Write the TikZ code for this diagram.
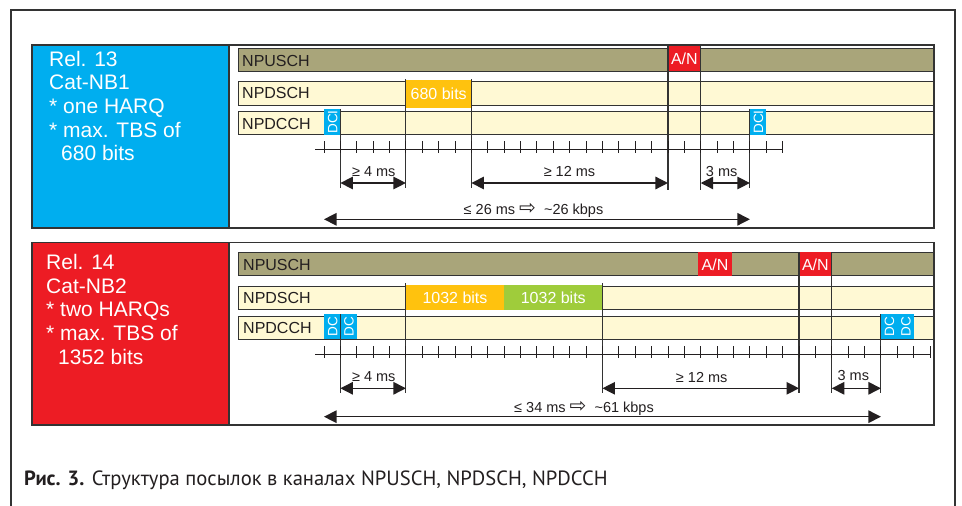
\documentclass[tikz,border=0pt]{standalone}
\usepackage{fontspec}
\setmainfont{Liberation Sans}
\newfontfamily\symfont{DejaVu Sans}
\newfontfamily\capfont{PT Sans}
\usetikzlibrary{arrows.meta}
\definecolor{nbblue}{HTML}{00AEEF}
\definecolor{nbred}{HTML}{ED1C24}
\definecolor{olivec}{HTML}{A9A57A}
\definecolor{cream}{HTML}{FFF9D4}
\definecolor{goldc}{HTML}{FFC20E}
\definecolor{limec}{HTML}{9FCC3B}
\definecolor{linec}{HTML}{333333}
\definecolor{textc}{HTML}{231F20}
\newcommand{\hollowarrow}{{\symfont\fontsize{20}{20}\selectfont\raisebox{-0.5pt}{⇨}}}
\begin{document}
\begin{tikzpicture}[x=1pt,y=-1pt,
  lineseg/.style={draw=linec, line width=1.1pt},
  barbox/.style={draw=linec, line width=0.9pt},
  lbl/.style={anchor=base west, inner sep=0pt, font=\fontsize{16}{18}\selectfont, text=textc},
  blk/.style={anchor=base, inner sep=0pt, font=\fontsize{16}{18}\selectfont, text=white},
  dcitxt/.style={rotate=90, inner sep=0pt, font=\fontsize{13.5}{14}\selectfont, text=white},
  dimtxt/.style={anchor=base, inner sep=0pt, font=\fontsize{14.5}{16}\selectfont, text=textc},
  sidetxt/.style={anchor=base west, inner sep=0pt, font=\fontsize{21}{24}\selectfont, text=white},
  dimarrow/.style={line width=1.3pt, draw=textc, {Triangle[length=12.5pt,width=12.5pt]}-{Triangle[length=12.5pt,width=12.5pt]}},
  tickmark/.style={draw=textc, line width=0.9pt},
  panelbox/.style={draw=linec, line width=1.5pt}
]
\useasboundingbox (0,0) rectangle (962,506);
\fill[white] (0,0) rectangle (962,506);
% outer frame
\draw[draw=linec, line width=1.2pt] (11,506) -- (11,10) -- (955,10) -- (955,506);

% ================= PANEL 1 =================
\fill[nbblue] (32,45) rectangle (229,228);
\node[sidetxt] (r13a) at (49,66) {Rel. 13};
\node[sidetxt] (r13b) at (49,89.7) {Cat-NB1};
\node[sidetxt] (r13c) at (49,113.4) {* one HARQ};
\node[sidetxt] (r13d) at (49,137.1) {* max. TBS of};
\node[sidetxt] (r13e) at (61,160.8) {680 bits};

\filldraw[barbox, fill=olivec] (238,48.3) rectangle (934,71.3);
\filldraw[barbox, fill=cream] (238,81.7) rectangle (934,105);
\filldraw[barbox, fill=cream] (238,111.7) rectangle (934,134.7);
\fill[goldc] (405.9,79.5) rectangle (471.42,107.5);
\fill[nbred] (667.98,45) rectangle (700.74,71.3);
\fill[nbblue] (324,109) rectangle (340.38,134.7);
\fill[nbblue] (749.88,109) rectangle (766.26,134.7);

\node[lbl] (u1) at (242,66) {NPUSCH};
\node[lbl] (s1) at (242,98.8) {NPDSCH};
\node[lbl] (c1) at (242,129) {NPDCCH};
\node[blk] (b680) at (438.7,99) {680 bits};
\node[blk] (an1) at (684.4,64.3) {A/N};
\node[dcitxt] (dci1) at (332.6,122) {DCI};
\node[dcitxt] (dci2) at (758.5,122) {DCI};

% marker lines
\draw[lineseg] (340.38,109) -- (340.38,188);
\draw[lineseg] (405.9,79) -- (405.9,188);
\draw[lineseg] (471.42,79) -- (471.42,188);
\draw[lineseg] (667.98,45) -- (667.98,190);
\draw[lineseg] (700.74,45) -- (700.74,190);
\draw[lineseg] (749.88,109) -- (749.88,188);

% axis
\draw[tickmark] (315,149) -- (782.64,149);
\foreach \i in {0,...,28} \draw[tickmark] ({324+16.38*\i},141) -- ({324+16.38*\i},153);

% dimensions
\coordinate (p1a) at (340.38,183);
\coordinate (p1b) at (405.9,183);
\coordinate (p1c) at (471.42,183);
\coordinate (p1d) at (667.98,183);
\coordinate (p1e) at (700.74,183);
\coordinate (p1f) at (749.88,183);
\coordinate (p1g) at (324,219.3);
\coordinate (p1h) at (749.88,219.3);
\draw[dimarrow] (p1a) -- (p1b);
\draw[dimarrow] (p1c) -- (p1d);
\draw[dimarrow] (p1e) -- (p1f);
\draw[dimarrow] (p1g) -- (p1h);
\node[dimtxt] (t1a) at (373.8,176.7) {≥ 4 ms};
\node[dimtxt] (t1b) at (569.5,176.7) {≥ 12 ms};
\node[dimtxt] (t1c) at (721.7,176.7) {3 ms};
\node[dimtxt] (t1d) at (533.5,214) {≤ 26 ms \hollowarrow\ \ \textasciitilde 26 kbps};

\draw[panelbox] (32,45) rectangle (934,228);
\draw[panelbox] (229,45) -- (229,228);

% ================= PANEL 2 =================
\fill[nbred] (32,242.3) rectangle (229,425);
\node[sidetxt] (r14a) at (46,269.3) {Rel. 14};
\node[sidetxt] (r14b) at (46,293.05) {Cat-NB2};
\node[sidetxt] (r14c) at (46,316.8) {* two HARQs};
\node[sidetxt] (r14d) at (46,340.55) {* max. TBS of};
\node[sidetxt] (r14e) at (58,364.3) {1352 bits};

\filldraw[barbox, fill=olivec] (238,252.3) rectangle (934,275.7);
\filldraw[barbox, fill=cream] (238,286) rectangle (934,309);
\filldraw[barbox, fill=cream] (238,316) rectangle (934,339.3);
\fill[goldc] (405.9,285) rectangle (504.18,310);
\fill[limec] (504.18,285) rectangle (602.46,310);
\fill[nbred] (698,252.3) rectangle (732,275.7);
\fill[nbred] (799.02,252.3) rectangle (831.78,275.7);
\fill[nbblue] (324,314) rectangle (340.38,339.3);
\fill[nbblue] (340.38,314) rectangle (356.76,339.3);
\fill[nbblue] (880.92,314) rectangle (897.3,339.3);
\fill[nbblue] (897.3,314) rectangle (913.68,339.3);

\node[lbl] (u2) at (243,270) {NPUSCH};
\node[lbl] (s2) at (243,303.5) {NPDSCH};
\node[lbl] (c2) at (243,333.3) {NPDCCH};
\node[blk] (b1032a) at (455,303.5) {1032 bits};
\node[blk] (b1032b) at (553.3,303.5) {1032 bits};
\node[blk] (an2) at (715,270) {A/N};
\node[blk] (an3) at (815.4,270) {A/N};
\node[dcitxt] (dc1) at (332.6,326.7) {DC};
\node[dcitxt] (dc2) at (349,326.7) {DC};
\node[dcitxt] (dc3) at (889.5,326.7) {DC};
\node[dcitxt] (dc4) at (905.9,326.7) {DC};

\draw[lineseg] (340.38,314) -- (340.38,393);
\draw[lineseg] (405.9,283) -- (405.9,393);
\draw[lineseg] (602.46,283) -- (602.46,393);
\draw[lineseg] (799.02,252.3) -- (799.02,393);
\draw[lineseg] (831.78,252.3) -- (831.78,393);
\draw[lineseg] (880.92,314) -- (880.92,393);

\draw[tickmark] (315,354.3) -- (930.06,354.3);
\foreach \i in {0,...,37} \draw[tickmark] ({324+16.38*\i},346.3) -- ({324+16.38*\i},358.3);

\coordinate (p2a) at (340.38,388.3);
\coordinate (p2b) at (405.9,388.3);
\coordinate (p2c) at (602.46,388.3);
\coordinate (p2d) at (799.02,388.3);
\coordinate (p2e) at (831.78,388.3);
\coordinate (p2f) at (880.92,388.3);
\coordinate (p2g) at (324,416.7);
\coordinate (p2h) at (880.92,416.7);
\draw[dimarrow] (p2a) -- (p2b);
\draw[dimarrow] (p2c) -- (p2d);
\draw[dimarrow] (p2e) -- (p2f);
\draw[dimarrow] (p2g) -- (p2h);
\node[dimtxt] (t2a) at (373.8,381.7) {≥ 4 ms};
\node[dimtxt] (t2b) at (701.7,382.3) {≥ 12 ms};
\node[dimtxt] (t2c) at (853.3,380.7) {3 ms};
\node[dimtxt] (t2d) at (584,412.3) {≤ 34 ms \hollowarrow\ \ \textasciitilde 61 kbps};

\draw[panelbox] (32,242.3) rectangle (934,425);
\draw[panelbox] (229,242.3) -- (229,425);

% caption
\node[anchor=base west, inner sep=0pt, font=\capfont\fontsize{20.6}{22}\selectfont, text=textc] (cap) at (24,485.7)
  {\textbf{Рис. 3.} Структура посылок в каналах NPUSCH, NPDSCH, NPDCCH};
\end{tikzpicture}
\end{document}
